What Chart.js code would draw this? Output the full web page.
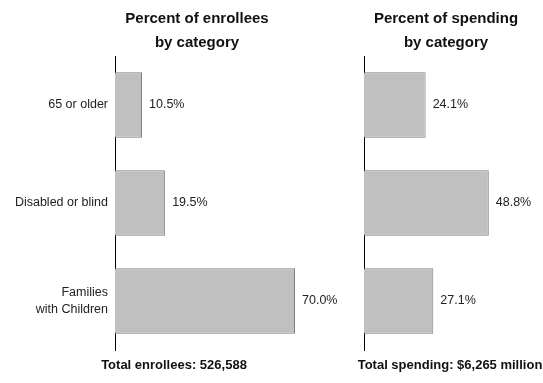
<!DOCTYPE html>
<html>
<head>
<meta charset="utf-8">
<script src="https://cdn.jsdelivr.net/npm/chart.js@4/dist/chart.umd.min.js"></script>
<style>
  html, body { margin: 0; padding: 0; background: #fff; }
  #wrap { position: relative; width: 543px; height: 383px; overflow: hidden; }
  canvas { position: absolute; top: 0; }
  #enrollees { left: 0; }
  #spending { left: 340px; }
</style>
</head>
<body>
<div id="wrap">
  <canvas id="enrollees" width="340" height="383"></canvas>
  <canvas id="spending" width="203" height="383"></canvas>
</div>
<script>
const categories = ['65 or older', 'Disabled or blind', ['Families', 'with Children']];
const enrolleeShare = [10.5, 19.5, 70.0];
const spendingShare = [24.1, 48.8, 27.1];
const enrolleeTitle = ['Percent of enrollees', 'by category'];
const spendingTitle = ['Percent of spending', 'by category'];
const enrolleeFooter = 'Total enrollees: 526,588';
const spendingFooter = 'Total spending: $6,265 million';

const FONT = "'Liberation Sans', Arial, sans-serif";

// value labels just right of each bar
const valueLabels = {
    id: 'valueLabels',
    afterDatasetsDraw(chart) {
        const { ctx } = chart;
        const meta = chart.getDatasetMeta(0);
        const values = chart.data.datasets[0].data;
        ctx.save();
        ctx.font = `12.5px ${FONT}`;
        ctx.fillStyle = '#222';
        ctx.textAlign = 'left';
        ctx.textBaseline = 'middle';
        meta.data.forEach((bar, i) => {
            ctx.fillText(`${values[i].toFixed(1)}%`, bar.x + 7, bar.y);
        });
        ctx.restore();
    }
};

// heading above and total below each panel
const panelText = {
    id: 'panelText',
    afterDraw(chart, args, opts) {
        const { ctx, chartArea } = chart;
        ctx.save();
        ctx.fillStyle = '#111';
        ctx.textAlign = 'center';
        ctx.textBaseline = 'middle';
        ctx.font = `bold 15px ${FONT}`;
        opts.title.forEach((line, i) => {
            ctx.fillText(line, chartArea.left + opts.titleDx, 19 + i * 24);
        });
        ctx.font = `bold 13px ${FONT}`;
        ctx.fillText(opts.footer, chartArea.left + opts.footerDx, 365);
        ctx.restore();
    }
};

const makePanel = (id, values, axisWidth, padRight, title, footer, titleDx, footerDx, showLabels) => {
    const ctx = document.getElementById(id).getContext('2d');
    return new Chart(ctx, {
        type: 'bar',
        data: {
            labels: categories,
            datasets: [{
                data: values,
                backgroundColor: '#c0c0c0',
                borderColor: '#7f7f7f',
                borderWidth: 1,
                barPercentage: 0.67,
                categoryPercentage: 1
            }]
        },
        options: {
            indexAxis: 'y',
            responsive: false,
            animation: false,
            devicePixelRatio: 1,
            layout: { padding: { top: 56, bottom: 33, left: 0, right: padRight } },
            scales: {
                x: { display: false, min: 0, max: 70 },
                y: {
                    afterFit: (scale) => { scale.width = axisWidth; },
                    grid: { display: false, drawTicks: false, tickLength: 0 },
                    border: { display: true, color: '#000', width: 1 },
                    ticks: {
                        display: showLabels,
                        padding: 7,
                        color: '#222',
                        font: { family: FONT, size: 12.5, lineHeight: 1.35 }
                    }
                }
            },
            plugins: {
                legend: { display: false },
                tooltip: { enabled: false },
                panelText: { title, footer, titleDx, footerDx }
            }
        },
        plugins: [valueLabels, panelText]
    });
};

makePanel('enrollees', enrolleeShare, 115, 45, enrolleeTitle, enrolleeFooter, 82, 59, true);
makePanel('spending', spendingShare, 24, 0, spendingTitle, spendingFooter, 82, 86, false);
</script>
</body>
</html>
